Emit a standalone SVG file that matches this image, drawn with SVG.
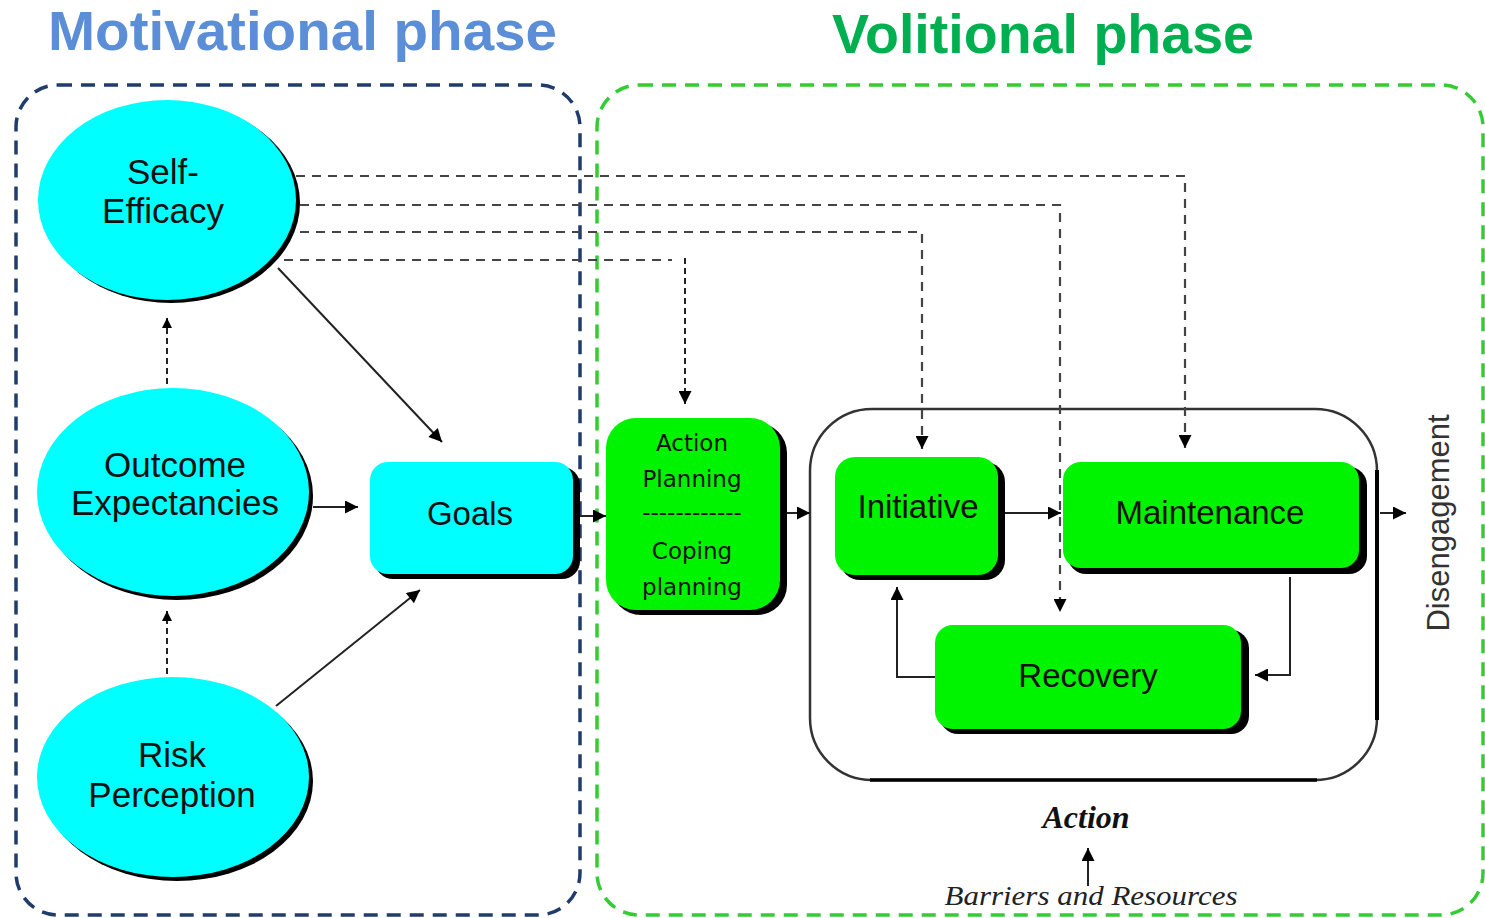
<svg xmlns="http://www.w3.org/2000/svg" width="1485" height="918" viewBox="0 0 1485 918">
<defs>
<marker id="ah" viewBox="0 0 10 10" refX="10" refY="5" markerUnits="userSpaceOnUse" markerWidth="15" markerHeight="13" orient="auto">
<path d="M0,0 L10,5 L0,10 z" fill="#000"/>
</marker>
<marker id="ahs" viewBox="0 0 10 10" refX="10" refY="5" markerUnits="userSpaceOnUse" markerWidth="11" markerHeight="10" orient="auto">
<path d="M0,0 L10,5 L0,10 z" fill="#000"/>
</marker>
</defs>
<style>
.title{font-family:"Liberation Sans",Arial,sans-serif;font-weight:bold;font-size:56px}
.lbl{font-family:"Liberation Sans",Arial,sans-serif;font-size:35px;fill:#111;text-anchor:middle}
.lbl2{font-family:"Liberation Sans",Arial,sans-serif;font-size:33px;fill:#111;text-anchor:middle}
.ap{font-family:"DejaVu Sans",Verdana,sans-serif;font-size:23px;fill:#111;text-anchor:middle}
.cyan{fill:#00FFFF}
.green{fill:#00F400}
.shadow{fill:#000}
.sol{fill:none;stroke:#222;stroke-width:2}
.dash{fill:none;stroke:#444;stroke-width:2.2;stroke-dasharray:9 7}
.dashs{fill:none;stroke:#222;stroke-width:2;stroke-dasharray:6 4}
</style>
<rect width="1485" height="918" fill="#fff"/>

<!-- phase frames -->
<g id="motivational-phase">
<rect x="16" y="85" width="564" height="830" rx="42" fill="none" stroke="#1F3C6A" stroke-width="3.5" stroke-dasharray="14 9"/>
<text class="title" x="48" y="50" fill="#5B8ED6" textLength="509" lengthAdjust="spacingAndGlyphs">Motivational phase</text>
</g>
<g id="volitional-phase">
<rect x="597" y="85" width="886" height="830" rx="42" fill="none" stroke="#33CC33" stroke-width="3.5" stroke-dasharray="14 9"/>
<text class="title" x="832" y="53" fill="#00B050" textLength="422" lengthAdjust="spacingAndGlyphs">Volitional phase</text>
</g>

<!-- Action container -->
<g id="action">
<rect x="810" y="409" width="567" height="371" rx="62" fill="none" stroke="#333" stroke-width="2.5"/>
<path d="M1377,470 L1377,720" stroke="#000" stroke-width="4" fill="none"/>
<path d="M870,780 L1317,780" stroke="#000" stroke-width="3.5" fill="none"/>
<text x="1086" y="828" text-anchor="middle" font-family="'Liberation Serif','Times New Roman',serif" font-style="italic" font-weight="bold" font-size="32" fill="#111">Action</text>
</g>

<!-- connectors -->
<g id="connectors">
<path class="dash" d="M296,176 L1185,176 L1185,448" marker-end="url(#ah)"/>
<path class="dash" d="M300,205 L1060,205 L1060,612" marker-end="url(#ah)"/>
<path class="dash" d="M300,232 L922,232 L922,449" marker-end="url(#ah)"/>
<path class="dash" d="M284,260 L672,260"/>
<path class="dashs" d="M685,258 L685,404" marker-end="url(#ah)"/>
<path class="sol" d="M278,268 L442,442" marker-end="url(#ah)"/>
<path class="dashs" d="M167,384 L167,318" marker-end="url(#ahs)"/>
<path class="dashs" d="M167,674 L167,611" marker-end="url(#ahs)"/>
<path class="sol" d="M276,706 L420,590" marker-end="url(#ah)"/>
<path class="sol" d="M313,507 L358,507" marker-end="url(#ah)"/>
<path class="sol" d="M580,516 L606,516" marker-end="url(#ah)"/>
<path class="sol" d="M786,513 L810,513" marker-end="url(#ah)"/>
<path class="sol" d="M1004,513 L1061,513" marker-end="url(#ah)"/>
<path class="sol" d="M1290,577 L1290,675 L1255,675" marker-end="url(#ah)"/>
<path class="sol" d="M935,677 L897,677 L897,587" marker-end="url(#ah)"/>
<path class="sol" d="M1380,513 L1406,513" marker-end="url(#ah)"/>
<path class="sol" d="M1088,886 L1088,848" marker-end="url(#ah)"/>
</g>

<!-- nodes -->
<g id="self-efficacy">
<ellipse class="shadow" cx="171" cy="203" rx="129" ry="100"/>
<ellipse class="cyan" cx="167" cy="200" rx="129" ry="100"/>
<text class="lbl" x="163" y="184">Self-</text>
<text class="lbl" x="163" y="223">Efficacy</text>
</g>
<g id="outcome-expectancies">
<ellipse class="shadow" cx="177" cy="496" rx="136" ry="104"/>
<ellipse class="cyan" cx="173" cy="492" rx="136" ry="104"/>
<text class="lbl" x="175" y="477">Outcome</text>
<text class="lbl" x="175" y="515">Expectancies</text>
</g>
<g id="risk-perception">
<ellipse class="shadow" cx="177" cy="781" rx="136" ry="100"/>
<ellipse class="cyan" cx="173" cy="777" rx="136" ry="100"/>
<text class="lbl" x="172" y="767">Risk</text>
<text class="lbl" x="172" y="807">Perception</text>
</g>
<g id="goals">
<rect class="shadow" x="375" y="467" width="205" height="112" rx="18"/>
<rect class="cyan" x="370" y="462" width="203" height="112" rx="18"/>
<text class="lbl2" x="470" y="525">Goals</text>
</g>
<g id="action-coping-planning">
<rect class="shadow" x="611" y="423" width="176" height="192" rx="30"/>
<rect class="green" x="606" y="418" width="174" height="192" rx="30"/>
<text class="ap" x="692" y="451">Action</text>
<text class="ap" x="692" y="487">Planning</text>
<text class="ap" x="692" y="520">------------</text>
<text class="ap" x="692" y="559">Coping</text>
<text class="ap" x="692" y="595">planning</text>
</g>
<g id="initiative">
<rect class="shadow" x="840" y="462" width="165" height="118" rx="20"/>
<rect class="green" x="835" y="457" width="163" height="118" rx="20"/>
<text class="lbl2" x="918" y="518">Initiative</text>
</g>
<g id="maintenance">
<rect class="shadow" x="1068" y="467" width="299" height="107" rx="18"/>
<rect class="green" x="1063" y="462" width="296" height="106" rx="18"/>
<text class="lbl2" x="1210" y="524">Maintenance</text>
</g>
<g id="recovery">
<rect class="shadow" x="940" y="630" width="309" height="104" rx="18"/>
<rect class="green" x="935" y="625" width="306" height="104" rx="18"/>
<text class="lbl2" x="1088" y="687">Recovery</text>
</g>
<g id="disengagement">
<text transform="translate(1449,523) rotate(-90)" text-anchor="middle" font-family="'Liberation Sans',Arial,sans-serif" font-size="31" fill="#333">Disengagement</text>
</g>
<g id="barriers-resources">
<text x="1091" y="905" text-anchor="middle" font-family="'Liberation Serif','Times New Roman',serif" font-style="italic" font-size="28" fill="#222" textLength="293" lengthAdjust="spacingAndGlyphs">Barriers and Resources</text>
</g>
</svg>
